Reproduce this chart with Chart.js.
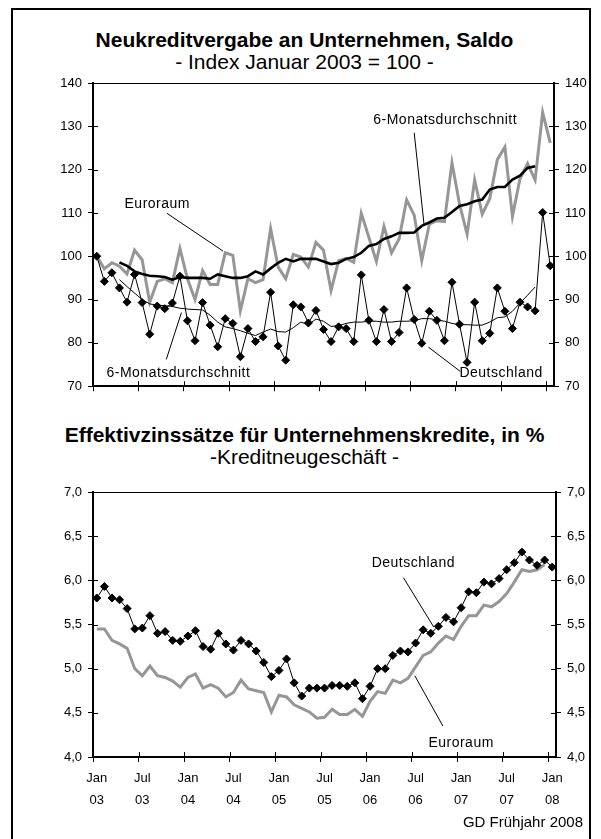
<!DOCTYPE html>
<html>
<head>
<meta charset="utf-8">
<script src="https://cdn.jsdelivr.net/npm/chart.js@4.4.1/dist/chart.umd.min.js"></script>
<style>
  body { margin: 0; background: #fff; font-family: "Liberation Sans", Arial, sans-serif; }
  #page { position: relative; width: 601px; height: 839px; overflow: hidden; }
  .frame { position: absolute; left: 11px; top: 8px; width: 580px; height: 850px; border: 2px solid #000; box-sizing: border-box; }
  .t { position: absolute; left: 4px; width: 601px; text-align: center; color: #000; white-space: nowrap; line-height: 22px; }
  .box { position: absolute; left: 0; width: 601px; }
</style>
</head>
<body>
<div id="page">
  <div class="frame"></div>
  <div class="t" style="top:29px; font-size:21px; font-weight:bold;">Neukreditvergabe an Unternehmen, Saldo</div>
  <div class="t" style="top:51px; font-size:21px;">- Index Januar 2003 = 100 -</div>
  <div class="box" style="top:0; height:400px;"><canvas id="top"></canvas></div>
  <div class="t" style="top:424px; font-size:21px; font-weight:bold;">Effektivzinssätze für Unternehmenskredite, in %</div>
  <div class="t" style="top:446px; font-size:21px;">-Kreditneugeschäft -</div>
  <div class="box" style="top:400px; height:430px;"><canvas id="bottom"></canvas></div>
  <div style="position:absolute; right:18px; top:812px; font-size:15px; line-height:20px;">GD Frühjahr 2008</div>
</div>
<script>
// months Jan 03 .. Jan 08
const monthNames = ['Jan', 'Feb', 'Mär', 'Apr', 'Mai', 'Jun', 'Jul', 'Aug', 'Sep', 'Okt', 'Nov', 'Dez'];
const months = [];
for (let y = 3; y <= 8; y++) {
  for (let m = 0; m < 12; m++) {
    if (months.length < 61) months.push(monthNames[m] + ' 0' + y);
  }
}
const tickLabels = [['Jan', '03'], ['Jul', '03'], ['Jan', '04'], ['Jul', '04'], ['Jan', '05'], ['Jul', '05'],
  ['Jan', '06'], ['Jul', '06'], ['Jan', '07'], ['Jul', '07'], ['Jan', '08']];

// Neukreditvergabe, Index Jan 2003 = 100
const deKredit = [100, 94.2, 96.2, 92.7, 89.4, 95.8, 89.3, 82.0, 88.5, 87.9, 89.2, 95.4, 85.1, 80.5, 89.3, 84.1,
  79.1, 85.6, 84.5, 76.8, 83.3, 80.3, 81.4, 91.7, 79.3, 76.0, 88.8, 88.3, 84.6, 87.5, 83.1, 80.3, 83.7, 83.3, 80.3,
  95.7, 85.2, 80.3, 87.7, 80.3, 82.4, 92.7, 85.4, 79.9, 87.3, 85.2, 80.5, 94.0, 84.3, 75.5, 89.4, 80.5, 82.2, 92.7,
  87.3, 83.3, 89.4, 88.3, 87.4, 110.1, 97.8];
const euKredit = [100, 97.1, 98.5, 97.7, 95.9, 101.4, 99.2, 89.4, 94.2, 94.8, 93.9, 101.8, 94.8, 90.0, 96.7, 93.5,
  93.5, 100.8, 100.2, 87.4, 94.8, 93.9, 94.6, 106.4, 97.5, 94.8, 100.4, 99.8, 97.5, 103.2, 101.4, 92.1, 99.0, 99.5,
  98.6, 109.9, 104.4, 98.8, 106.9, 100.8, 104.0, 113.0, 109.5, 99.0, 107.4, 108.2, 108.0, 121.6, 112.0, 105.1,
  117.6, 109.7, 113.3, 122.3, 125.2, 109.2, 117.9, 121.4, 117.6, 133.2, 126.2];
const deKreditAvg = [null, null, null, 94.6, 93.0, 91.5, 90.0, 89.0, 88.7, 88.6, 88.4, 88.0, 87.8, 87.7, 87.6, 86.4,
  84.8, 83.7, 83.3, 82.8, 82.2, 81.7, 82.5, 83.2, 82.6, 82.5, 83.5, 84.8, 84.2, 85.5, 85.0, 83.8, 84.0, 84.5, 84.8,
  84.8, 85.0, 85.0, 84.8, 84.8, 85.0, 85.0, 85.1, 85.6, 85.6, 85.3, 85.0, 84.5, 84.2, 84.2, 84.1, 84.1, 84.8, 85.8,
  86.0, 87.3, 89.2, 91.0, 92.9, null, null];
const euKreditAvg = [null, null, null, 98.6, 97.8, 96.5, 95.9, 95.5, 95.4, 95.2, 94.6, 95.2, 95.0, 95.0, 95.0, 94.8,
  95.8, 95.4, 95.0, 95.0, 95.4, 96.5, 95.8, 97.2, 98.5, 99.4, 98.8, 99.4, 99.4, 99.4, 98.8, 98.2, 98.5, 99.4, 99.8,
  100.8, 102.4, 102.8, 104.0, 104.6, 105.4, 105.4, 105.5, 107.0, 107.8, 108.7, 108.9, 110.2, 111.6, 112.0, 112.7,
  113.1, 115.4, 116.0, 116.0, 117.7, 118.6, 120.4, 120.8, null, null];

// Effektivzinssätze, in %
const deZins = [5.80, 5.93, 5.80, 5.78, 5.68, 5.45, 5.46, 5.60, 5.40, 5.42, 5.32, 5.31, 5.37, 5.43, 5.25, 5.22,
  5.40, 5.28, 5.21, 5.32, 5.28, 5.20, 5.07, 4.91, 4.98, 5.11, 4.84, 4.69, 4.78, 4.78, 4.78, 4.81, 4.81, 4.80, 4.84,
  4.66, 4.80, 5.00, 5.00, 5.15, 5.20, 5.19, 5.29, 5.44, 5.40, 5.48, 5.58, 5.53, 5.69, 5.87, 5.86, 5.98, 5.96, 6.02,
  6.12, 6.20, 6.32, 6.23, 6.17, 6.23, 6.15];
const euZins = [5.45, 5.45, 5.32, 5.28, 5.23, 5.00, 4.92, 5.03, 4.92, 4.90, 4.86, 4.79, 4.90, 4.94, 4.78, 4.82,
  4.78, 4.68, 4.73, 4.87, 4.77, 4.75, 4.73, 4.51, 4.70, 4.68, 4.59, 4.55, 4.51, 4.44, 4.45, 4.54, 4.48, 4.48, 4.54,
  4.46, 4.63, 4.74, 4.72, 4.87, 4.84, 4.89, 5.02, 5.15, 5.19, 5.29, 5.37, 5.33, 5.48, 5.60, 5.60, 5.72, 5.70, 5.76,
  5.85, 5.98, 6.12, 6.10, 6.12, 6.18, null];

const FONT = '"Liberation Sans", Arial, sans-serif';
const GRAY = '#969696';

// text labels with leader lines, in data units (month index, value)
const topNotes = [
  { text: 'Euroraum', at: [8.0, 112.0], line: [9.3, 109.9, 16.7, 101.2] },
  { text: '6-Monatsdurchschnitt', at: [10.8, 73.0], line: [9.2, 76.2, 11.2, 87.0] },
  { text: '6-Monatsdurchschnitt', at: [46.1, 131.5], line: [42.0, 128.5, 43.3, 107.4] },
  { text: 'Deutschland', at: [53.5, 73.0], line: [43.9, 79.0, 48.1, 73.4] }
];
const bottomNotes = [
  { text: 'Deutschland', at: [41.7, 6.20], line: [40.4, 6.03, 44.4, 5.47] },
  { text: 'Euroraum', at: [48.0, 4.16], line: [41.9, 4.92, 45.6, 4.35] }
];

const notesPlugin = {
  id: 'notes',
  afterDraw(chart, args, opts) {
    const { ctx, scales } = chart;
    const x = scales.x, y = scales.y;
    ctx.save();
    ctx.strokeStyle = '#000';
    ctx.fillStyle = '#000';
    ctx.lineWidth = 1;
    ctx.font = '14px ' + FONT;
    ctx.letterSpacing = '0.5px';
    ctx.textAlign = 'center';
    ctx.textBaseline = 'middle';
    (opts.items || []).forEach(n => {
      ctx.beginPath();
      ctx.moveTo(x.getPixelForValue(n.line[0]), y.getPixelForValue(n.line[1]));
      ctx.lineTo(x.getPixelForValue(n.line[2]), y.getPixelForValue(n.line[3]));
      ctx.stroke();
      ctx.fillText(n.text, x.getPixelForValue(n.at[0]), y.getPixelForValue(n.at[1]));
    });
    ctx.restore();
  }
};

// inner half of the crossing tick marks + top frame line
const innerTicks = {
  id: 'innerTicks',
  afterDraw(chart) {
    const { ctx, chartArea: a, scales } = chart;
    ctx.save();
    ctx.strokeStyle = '#000';
    ctx.lineWidth = 1;
    ctx.beginPath();
    ctx.moveTo(a.left, a.top + 0.5);
    ctx.lineTo(a.right, a.top + 0.5);
    scales.y.ticks.forEach(t => {
      const py = Math.round(scales.y.getPixelForValue(t.value)) + 0.5;
      ctx.moveTo(a.left, py); ctx.lineTo(a.left + 5, py);
    });
    scales.y2.ticks.forEach(t => {
      const py = Math.round(scales.y2.getPixelForValue(t.value)) + 0.5;
      ctx.moveTo(a.right - 5, py); ctx.lineTo(a.right, py);
    });
    for (let i = 6; i < months.length; i += 6) {
      const px = Math.round(scales.x.getPixelForValue(i - 0.5)) + 0.5;
      ctx.moveTo(px, a.bottom); ctx.lineTo(px, a.bottom - 5);
    }
    ctx.stroke();
    ctx.restore();
  }
};

function xScale(showLabels, height) {
  return {
    type: 'category',
    labels: months,
    offset: true,
    afterFit: s => { s.height = height; },
    border: { display: true, color: '#000', width: 2 },
    grid: {
      offset: true,
      drawOnChartArea: false,
      tickLength: 5,
      lineWidth: 1,
      color: c => (c.index % 6 === 0 && c.index < months.length) ? '#000' : 'rgba(0,0,0,0)'
    },
    ticks: {
      display: showLabels,
      autoSkip: false,
      maxRotation: 0,
      padding: 6,
      color: '#000',
      font: { family: FONT, size: 13, lineHeight: 1.65 },
      callback: (v, i) => i % 6 === 0 ? tickLabels[i / 6] : ''
    }
  };
}

function yScale(pos, min, max, step, width, fmt) {
  return {
    position: pos,
    min: min, max: max,
    afterFit: s => { s.width = width; },
    border: { display: true, color: '#000', width: 2 },
    grid: { drawOnChartArea: false, tickLength: 5, color: '#000', lineWidth: 1 },
    ticks: { stepSize: step, padding: 6, color: '#000', font: { family: FONT, size: 13 }, callback: fmt }
  };
}

const baseOptions = {
  responsive: true,
  maintainAspectRatio: false,
  animation: false,
  events: [],
  plugins: { legend: { display: false }, tooltip: { enabled: false } }
};

const diamond = { pointStyle: 'rectRot', pointRadius: 4, pointBorderWidth: 1, pointBackgroundColor: '#000', pointBorderColor: '#000' };
const noPoint = { pointRadius: 0 };

new Chart(document.getElementById('top'), {
  type: 'line',
  data: {
    labels: months,
    datasets: [
      Object.assign({ label: 'Deutschland', data: deKredit, borderColor: '#000', borderWidth: 1 }, diamond),
      Object.assign({ label: 'Deutschland 6-Monatsdurchschnitt', data: deKreditAvg, borderColor: '#000', borderWidth: 1 }, noPoint),
      Object.assign({ label: 'Euroraum 6-Monatsdurchschnitt', data: euKreditAvg, borderColor: '#000', borderWidth: 2.6 }, noPoint),
      Object.assign({ label: 'Euroraum', data: euKredit, borderColor: GRAY, borderWidth: 3 }, noPoint)
    ]
  },
  options: Object.assign({}, baseOptions, {
    layout: { padding: { top: 83, left: 0, right: 0, bottom: 0 } },
    scales: {
      x: xScale(false, 12),
      y: yScale('left', 70, 140, 10, 93, v => v),
      y2: yScale('right', 70, 140, 10, 47, v => v)
    },
    plugins: Object.assign({}, baseOptions.plugins, { notes: { items: topNotes } })
  }),
  plugins: [innerTicks, notesPlugin]
});

const comma = v => v.toFixed(1).replace('.', ',');

new Chart(document.getElementById('bottom'), {
  type: 'line',
  data: {
    labels: months,
    datasets: [
      Object.assign({ label: 'Deutschland', data: deZins, borderColor: '#000', borderWidth: 1 }, diamond),
      Object.assign({ label: 'Euroraum', data: euZins, borderColor: GRAY, borderWidth: 3 }, noPoint)
    ]
  },
  options: Object.assign({}, baseOptions, {
    layout: { padding: { top: 92, left: 0, right: 0, bottom: 0 } },
    scales: {
      x: xScale(true, 73),
      y: yScale('left', 4, 7, 0.5, 93, comma),
      y2: yScale('right', 4, 7, 0.5, 45, comma)
    },
    plugins: Object.assign({}, baseOptions.plugins, { notes: { items: bottomNotes } })
  }),
  plugins: [innerTicks, notesPlugin]
});
</script>
</body>
</html>
